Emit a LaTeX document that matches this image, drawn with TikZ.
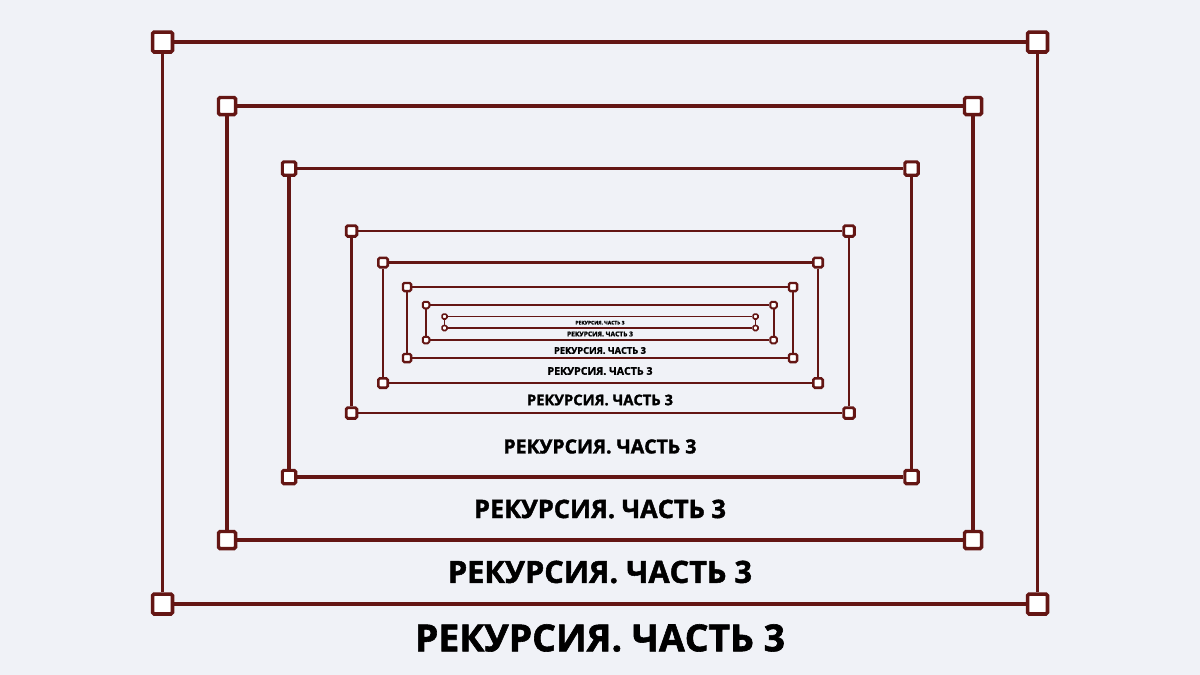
\documentclass[tikz,border=0pt]{standalone}
\usepackage{graphicx}
\usepackage{fontspec}
\newfontfamily\tf{Open Sans}[BoldFeatures={FakeBold=1.6}]
\definecolor{bg}{HTML}{F0F2F7}
\definecolor{fr}{HTML}{641614}
\begin{document}
\begin{tikzpicture}[x=1pt,y=-1pt,
  corner/.style={draw=fr, fill=white, rounded corners=1.5pt, inner sep=0pt},
  frameline/.style={draw=fr},
  caption/.style={inner sep=0pt, text=black}]
\useasboundingbox[fill=bg] (0,0) rectangle (1200,675);
\foreach \i/\l/\t/\r/\b/\s/\w in {
  1/162.5/42/1037.5/604/23.5/3.6,
  2/227/106/973/540/20.5/3.4,
  3/289/168.5/911.5/477/16.5/3.1,
  4/351.5/231/849/413/13.5/2.8,
  5/383/262.5/818/383/12/2.6,
  6/407/287/793/358/10.5/2.3,
  7/426/305/773.5/340/8.5/2,
  8/444.5/316.5/755.5/328/6.5/1.6} {
  \pgfmathsetmacro{\ms}{\s-\w}
  \node[corner, minimum size=\ms pt, line width=\w pt] (tl\i) at (\l,\t) {};
  \node[corner, minimum size=\ms pt, line width=\w pt] (tr\i) at (\r,\t) {};
  \node[corner, minimum size=\ms pt, line width=\w pt] (br\i) at (\r,\b) {};
  \node[corner, minimum size=\ms pt, line width=\w pt] (bl\i) at (\l,\b) {};
  \draw[frameline, line width=\w pt] (tl\i) -- (tr\i);
  \draw[frameline, line width=\w pt] (tr\i) -- (br\i);
  \draw[frameline, line width=\w pt] (br\i) -- (bl\i);
  \draw[frameline, line width=\w pt] (bl\i) -- (tl\i);
}
\foreach \i/\y/\tw in {
  1/638/370,
  2/572/304,
  3/509/252,
  4/446.5/193,
  5/400/146,
  6/371/105,
  7/350.5/92,
  8/334/66,
  9/322.7/49} {
  \node[caption] (t\i) at (600,\y) {\resizebox{\tw pt}{!}{\tf\bfseries РЕКУРСИЯ. ЧАСТЬ 3}};
}
\end{tikzpicture}
\end{document}
